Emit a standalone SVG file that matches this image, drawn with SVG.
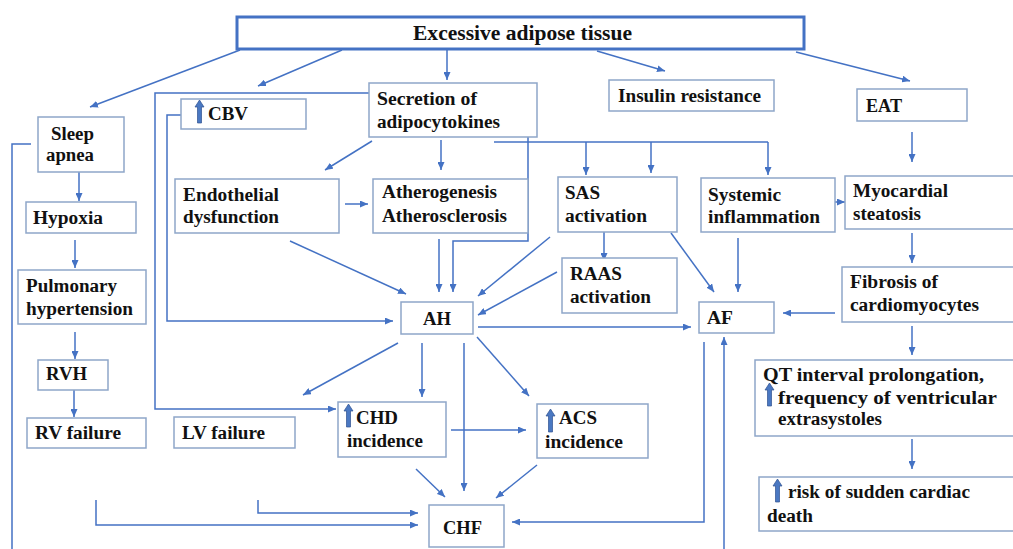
<svg xmlns="http://www.w3.org/2000/svg" xmlns:xlink="http://www.w3.org/1999/xlink" width="1013" height="549" viewBox="0 0 1013 549">
<style>
.box{fill:#fff;stroke:#8EA6C9;stroke-width:1.5}
.main{fill:#fff;stroke:#4472C4;stroke-width:3}
.t{font-family:"Liberation Serif","Times New Roman",serif;font-weight:bold;font-size:18px;fill:#111}
.tt{font-family:"Liberation Serif","Times New Roman",serif;font-weight:bold;font-size:20px;fill:#111}
.c{fill:none;stroke:#4472C4;stroke-width:1.5}
.ca{fill:none;stroke:#4472C4;stroke-width:1.5;marker-end:url(#ah)}
.up{fill:#4A78C2;stroke:#2F528F;stroke-width:0.7}
</style>
<defs>
<marker id="ah" markerUnits="userSpaceOnUse" markerWidth="8" markerHeight="7" refX="8" refY="3.5" orient="auto">
<path d="M0,0 L8,3.5 L0,7 Z" fill="#4472C4"/>
</marker>
<path id="uparrow" class="up" d="M4.5,0 L9,7 L6.5,7 L6.5,23 L2.5,23 L2.5,7 L0,7 Z"/>
</defs>
<rect width="1013" height="549" fill="#fff"/>

<g id="connectors">
<path class="ca" d="M240,50 L90,107"/>
<path class="ca" d="M342,50 L258,86"/>
<path class="ca" d="M447,50 L447,80"/>
<path class="ca" d="M597,51 L665,71"/>
<path class="ca" d="M796,52 L910,81"/>
<path class="c" d="M31,144 L12,144 L12,549"/>
<path class="ca" d="M369,93 L155,93 L155,409 L336,409"/>
<path class="ca" d="M181,115 L167,115 L167,321 L393,321"/>
<path class="ca" d="M372,141 L325,170"/>
<path class="ca" d="M441,140 L441,170"/>
<path class="c" d="M494,142 L768,142"/>
<path class="ca" d="M586,142 L586,175"/>
<path class="ca" d="M651,142 L651,173"/>
<path class="ca" d="M768,142 L768,175"/>
<path class="ca" d="M528,137 L528,241 L453,241 L453,292"/>
<path class="ca" d="M345,204 L368,204"/>
<path class="ca" d="M439,239 L439,292"/>
<path class="ca" d="M290,241 L406,294"/>
<path class="ca" d="M550,237 L478,296"/>
<path class="ca" d="M557,272 L478,315"/>
<path class="ca" d="M604,232 L604,261"/>
<path class="ca" d="M671,233 L714,292"/>
<path class="ca" d="M738,238 L738,292"/>
<path class="ca" d="M823,202 L845,202"/>
<path class="ca" d="M912,132 L912,162"/>
<path class="ca" d="M912,233 L912,263"/>
<path class="ca" d="M835,313 L783,313"/>
<path class="ca" d="M912,326 L912,355"/>
<path class="ca" d="M912,439 L912,469"/>
<path class="ca" d="M478,327 L691,327"/>
<path class="ca" d="M398,343 L303,395"/>
<path class="ca" d="M422,343 L422,397"/>
<path class="ca" d="M464,343 L464,491"/>
<path class="ca" d="M477,337 L529,396"/>
<path class="ca" d="M451,430 L526,430"/>
<path class="ca" d="M416,469 L445,497"/>
<path class="ca" d="M537,465 L496,498"/>
<path class="ca" d="M96,500 L96,525 L418,525"/>
<path class="ca" d="M258,500 L258,513 L418,513"/>
<path class="ca" d="M704,342 L704,522 L512,522"/>
<path class="ca" d="M724,549 L724,337"/>
<path class="ca" d="M79,172 L79,201"/>
<path class="ca" d="M75,240 L75,268"/>
<path class="ca" d="M75,332 L75,359"/>
<path class="ca" d="M74,390 L74,417"/>
</g>

<g id="excessive-adipose-tissue">
<rect class="main" x="237" y="17" width="567" height="32"/>
<text class="tt" x="413" y="40" textLength="219" lengthAdjust="spacingAndGlyphs">Excessive adipose tissue</text>
</g>
<g id="sleep-apnea">
<rect class="box" x="38" y="117" width="86" height="55"/>
<text class="t" x="51" y="140" textLength="43" lengthAdjust="spacingAndGlyphs">Sleep</text>
<text class="t" x="46" y="161" textLength="48" lengthAdjust="spacingAndGlyphs">apnea</text>
</g>
<g id="cbv">
<rect class="box" x="181" y="99" width="125" height="30"/>
<use xlink:href="#uparrow" x="195" y="100"/>
<text class="t" x="208" y="120" textLength="40" lengthAdjust="spacingAndGlyphs">CBV</text>
</g>
<g id="secretion">
<rect class="box" x="369" y="83" width="168" height="54"/>
<text class="t" x="377" y="105" textLength="100" lengthAdjust="spacingAndGlyphs">Secretion of</text>
<text class="t" x="377" y="128" textLength="123" lengthAdjust="spacingAndGlyphs">adipocytokines</text>
</g>
<g id="insulin-resistance">
<rect class="box" x="609" y="80" width="165" height="31"/>
<text class="t" x="618" y="102" textLength="143" lengthAdjust="spacingAndGlyphs">Insulin resistance</text>
</g>
<g id="eat">
<rect class="box" x="857" y="89" width="110" height="32"/>
<text class="t" x="866" y="112" textLength="36" lengthAdjust="spacingAndGlyphs">EAT</text>
</g>
<g id="endothelial">
<rect class="box" x="175" y="179" width="164" height="54"/>
<text class="t" x="183" y="201" textLength="96" lengthAdjust="spacingAndGlyphs">Endothelial</text>
<text class="t" x="183" y="223" textLength="96" lengthAdjust="spacingAndGlyphs">dysfunction</text>
</g>
<g id="atherogenesis">
<rect class="box" x="373" y="179" width="155" height="54"/>
<text class="t" x="382" y="198" textLength="115" lengthAdjust="spacingAndGlyphs">Atherogenesis</text>
<text class="t" x="382" y="222" textLength="125" lengthAdjust="spacingAndGlyphs">Atherosclerosis</text>
</g>
<g id="sas">
<rect class="box" x="558" y="177" width="119" height="55"/>
<text class="t" x="565" y="199" textLength="35" lengthAdjust="spacingAndGlyphs">SAS</text>
<text class="t" x="565" y="222" textLength="82" lengthAdjust="spacingAndGlyphs">activation</text>
</g>
<g id="systemic-inflammation">
<rect class="box" x="701" y="178" width="134" height="54"/>
<text class="t" x="708" y="201" textLength="73" lengthAdjust="spacingAndGlyphs">Systemic</text>
<text class="t" x="708" y="223" textLength="112" lengthAdjust="spacingAndGlyphs">inflammation</text>
</g>
<g id="myocardial-steatosis">
<rect class="box" x="845" y="176" width="172" height="53"/>
<text class="t" x="853" y="197" textLength="95" lengthAdjust="spacingAndGlyphs">Myocardial</text>
<text class="t" x="853" y="220" textLength="68" lengthAdjust="spacingAndGlyphs">steatosis</text>
</g>
<g id="raas">
<rect class="box" x="562" y="258" width="115" height="55"/>
<text class="t" x="570" y="280" textLength="52" lengthAdjust="spacingAndGlyphs">RAAS</text>
<text class="t" x="570" y="303" textLength="81" lengthAdjust="spacingAndGlyphs">activation</text>
</g>
<g id="af">
<rect class="box" x="699" y="302" width="75" height="31"/>
<text class="t" x="707" y="324" textLength="26" lengthAdjust="spacingAndGlyphs">AF</text>
</g>
<g id="fibrosis">
<rect class="box" x="842" y="267" width="175" height="55"/>
<text class="t" x="850" y="288" textLength="88" lengthAdjust="spacingAndGlyphs">Fibrosis of</text>
<text class="t" x="850" y="311" textLength="129" lengthAdjust="spacingAndGlyphs">cardiomyocytes</text>
</g>
<g id="ah-node">
<rect class="box" x="401" y="302" width="72" height="32"/>
<text class="t" x="423" y="325" textLength="28" lengthAdjust="spacingAndGlyphs">AH</text>
</g>
<g id="hypoxia">
<rect class="box" x="26" y="202" width="110" height="31"/>
<text class="t" x="33" y="224" textLength="70" lengthAdjust="spacingAndGlyphs">Hypoxia</text>
</g>
<g id="pulmonary-hypertension">
<rect class="box" x="18" y="270" width="128" height="54"/>
<text class="t" x="26" y="292" textLength="91" lengthAdjust="spacingAndGlyphs">Pulmonary</text>
<text class="t" x="26" y="315" textLength="107" lengthAdjust="spacingAndGlyphs">hypertension</text>
</g>
<g id="rvh">
<rect class="box" x="38" y="360" width="70" height="30"/>
<text class="t" x="46" y="380" textLength="41" lengthAdjust="spacingAndGlyphs">RVH</text>
</g>
<g id="rv-failure">
<rect class="box" x="27" y="418" width="119" height="30"/>
<text class="t" x="35" y="439" textLength="86" lengthAdjust="spacingAndGlyphs">RV failure</text>
</g>
<g id="lv-failure">
<rect class="box" x="174" y="417" width="121" height="31"/>
<text class="t" x="182" y="439" textLength="83" lengthAdjust="spacingAndGlyphs">LV failure</text>
</g>
<g id="chd">
<rect class="box" x="338" y="402" width="108" height="55"/>
<use xlink:href="#uparrow" x="344" y="404"/>
<text class="t" x="356" y="424" textLength="42" lengthAdjust="spacingAndGlyphs">CHD</text>
<text class="t" x="347" y="447" textLength="76" lengthAdjust="spacingAndGlyphs">incidence</text>
</g>
<g id="acs">
<rect class="box" x="537" y="404" width="111" height="54"/>
<use xlink:href="#uparrow" x="546" y="409"/>
<text class="t" x="559" y="424" textLength="38" lengthAdjust="spacingAndGlyphs">ACS</text>
<text class="t" x="545" y="448" textLength="78" lengthAdjust="spacingAndGlyphs">incidence</text>
</g>
<g id="chf">
<rect class="box" x="429" y="505" width="75" height="42"/>
<text class="t" x="443" y="534" textLength="39" lengthAdjust="spacingAndGlyphs">CHF</text>
</g>
<g id="qt">
<rect class="box" x="755" y="360" width="262" height="76"/>
<text class="t" x="763" y="381" textLength="221" lengthAdjust="spacingAndGlyphs">QT interval prolongation,</text>
<use xlink:href="#uparrow" x="765" y="383"/>
<text class="t" x="778" y="404" textLength="219" lengthAdjust="spacingAndGlyphs">frequency of ventricular</text>
<text class="t" x="778" y="425" textLength="104" lengthAdjust="spacingAndGlyphs">extrasystoles</text>
</g>
<g id="sudden-death">
<rect class="box" x="759" y="477" width="258" height="54"/>
<use xlink:href="#uparrow" x="773" y="479"/>
<text class="t" x="788" y="498" textLength="182" lengthAdjust="spacingAndGlyphs">risk of sudden cardiac</text>
<text class="t" x="767" y="522" textLength="46" lengthAdjust="spacingAndGlyphs">death</text>
</g>
</svg>
